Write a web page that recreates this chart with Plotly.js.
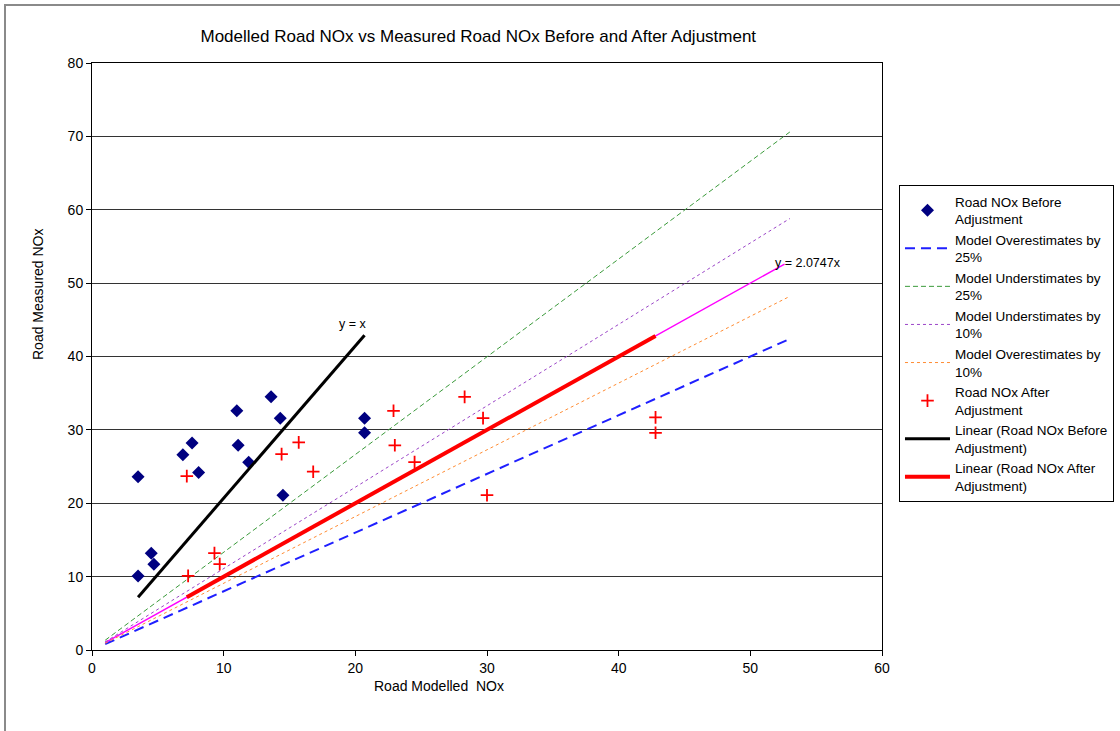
<!DOCTYPE html>
<html>
<head>
<meta charset="utf-8">
<script src="https://cdn.plot.ly/plotly-3.0.1.min.js"></script>
<style>
  html, body { margin: 0; padding: 0; background: #fff; overflow: hidden; }
  #chart { width: 1120px; height: 731px; }
  #frame { position: absolute; left: 4px; top: 4px; width: 1200px; height: 800px; border: 2px solid #8a8a8a; pointer-events: none; }
</style>
</head>
<body>
<div id="chart"></div>
<div id="frame"></div>
<script>
// Road NOx before adjustment (modelled, measured)
const beforeX = [3.5, 4.5, 4.7, 3.5, 6.9, 7.6, 8.1, 11.0, 11.1, 11.9, 13.6, 14.3, 14.5, 20.7, 20.7];
const beforeY = [10.1, 13.2, 11.7, 23.6, 26.6, 28.2, 24.2, 32.6, 27.9, 25.6, 34.5, 31.6, 21.1, 31.6, 29.6];
// Road NOx after adjustment
const afterX = [7.3, 9.3, 9.7, 7.2, 14.4, 15.7, 16.8, 22.9, 23.0, 24.5, 28.3, 29.7, 30.0, 42.8, 42.8];
const afterY = [10.1, 13.2, 11.7, 23.7, 26.7, 28.3, 24.3, 32.6, 27.9, 25.6, 34.5, 31.6, 21.1, 31.7, 29.6];
// Reference lines (end points)
const refX = [1, 53];
const over25Y = [0.8, 42.4];
const under25Y = [1.33, 70.6];
const under10Y = [1.11, 58.8];
const over10Y = [0.91, 48.2];
// Trend lines
const trendBeforeX = [3.5, 20.7];
const trendBeforeY = [7.2, 42.9];
const trendAfterX = [7.2, 42.8];
const trendAfterY = [7.2, 42.8];
const trendExtX = [1, 52.6];
const trendExtY = [1, 52.6];
const xTicks = [0, 10, 20, 30, 40, 50, 60];
const yTicks = [0, 10, 20, 30, 40, 50, 60, 70, 80];
const seriesNames = [
  'Road NOx Before<br>Adjustment',
  'Model Overestimates by<br>25%',
  'Model Understimates by<br>25%',
  'Model Understimates by<br>10%',
  'Model Overestimates by<br>10%',
  'Road NOx After<br>Adjustment',
  'Linear (Road NOx Before<br>Adjustment)',
  'Linear (Road NOx After<br>Adjustment)'
];

const font = "Liberation Sans, Arial, sans-serif";

const traces = [
  {x: trendExtX, y: trendExtY, mode: 'lines', line: {color: '#ff00ff', width: 1.5}, showlegend: false, hoverinfo: 'skip'},
  {x: beforeX, y: beforeY, mode: 'markers', name: seriesNames[0],
   marker: {symbol: 'diamond', color: '#000080', size: 10}},
  {x: refX, y: over25Y, mode: 'lines', name: seriesNames[1],
   line: {color: '#1f1fff', width: 2, dash: '10px,6px'}},
  {x: refX, y: under25Y, mode: 'lines', name: seriesNames[2],
   line: {color: '#3a9a3a', width: 1, dash: '5px,3px'}},
  {x: refX, y: under10Y, mode: 'lines', name: seriesNames[3],
   line: {color: '#9b45c8', width: 1, dash: 'dot'}},
  {x: refX, y: over10Y, mode: 'lines', name: seriesNames[4],
   line: {color: '#ff8c33', width: 1, dash: 'dot'}},
  {x: afterX, y: afterY, mode: 'markers', name: seriesNames[5],
   marker: {symbol: 'cross-thin', color: '#ff0000', size: 9, line: {color: '#ff0000', width: 1.8}}},
  {x: trendBeforeX, y: trendBeforeY, mode: 'lines', name: seriesNames[6],
   line: {color: '#000000', width: 3}},
  {x: trendAfterX, y: trendAfterY, mode: 'lines', name: seriesNames[7],
   line: {color: '#ff0000', width: 4}}
];

const layout = {
  width: 1120, height: 731,
  paper_bgcolor: '#ffffff', plot_bgcolor: '#ffffff',
  margin: {l: 92, r: 238, t: 63, b: 81, autoexpand: false},
  font: {family: font, color: '#000', size: 13},
  title: {text: 'Modelled Road NOx vs Measured Road NOx Before and After Adjustment',
          font: {family: font, size: 17, color: '#000'}, x: 0.489, xref: 'paper', xanchor: 'center',
          y: 0.951, yref: 'container', yanchor: 'middle'},
  xaxis: {range: [0, 60], tickvals: xTicks, showgrid: false, zeroline: false,
          showline: true, linecolor: '#000', linewidth: 1, mirror: true,
          ticks: 'outside', ticklen: 5, tickcolor: '#000', tickfont: {size: 14}},
  yaxis: {range: [0, 80], tickvals: yTicks, showgrid: true, gridcolor: '#333', gridwidth: 1, zeroline: false,
          showline: true, linecolor: '#000', linewidth: 1, mirror: true,
          ticks: 'outside', ticklen: 5, tickcolor: '#000', tickfont: {size: 14}},
  legend: {x: 1.0215, xanchor: 'left', y: 0.792, yanchor: 'top',
           bordercolor: '#000', borderwidth: 1, bgcolor: '#fff',
           font: {family: font, size: 13.5}, itemwidth: 45, tracegroupgap: 0},
  annotations: [
    {x: 19.8, y: 44.4, text: 'y = x', showarrow: false, font: {size: 12.5}},
    {x: 54.4, y: 52.8, text: 'y = 2.0747x', showarrow: false, font: {size: 12.5}},
    {xref: 'paper', yref: 'paper', x: (439 - 92) / 790, y: -(686 - 650) / 587, text: 'Road Modelled  NOx',
     showarrow: false, font: {size: 14}, xanchor: 'center', yanchor: 'middle'},
    {xref: 'paper', yref: 'paper', x: -(92 - 38) / 790, y: (650 - 294) / 587, text: 'Road Measured NOx',
     showarrow: false, font: {size: 14}, textangle: -90, xanchor: 'center', yanchor: 'middle'}
  ],
  showlegend: true
};

Plotly.newPlot('chart', traces, layout, {displayModeBar: false, staticPlot: true});
</script>
</body>
</html>
